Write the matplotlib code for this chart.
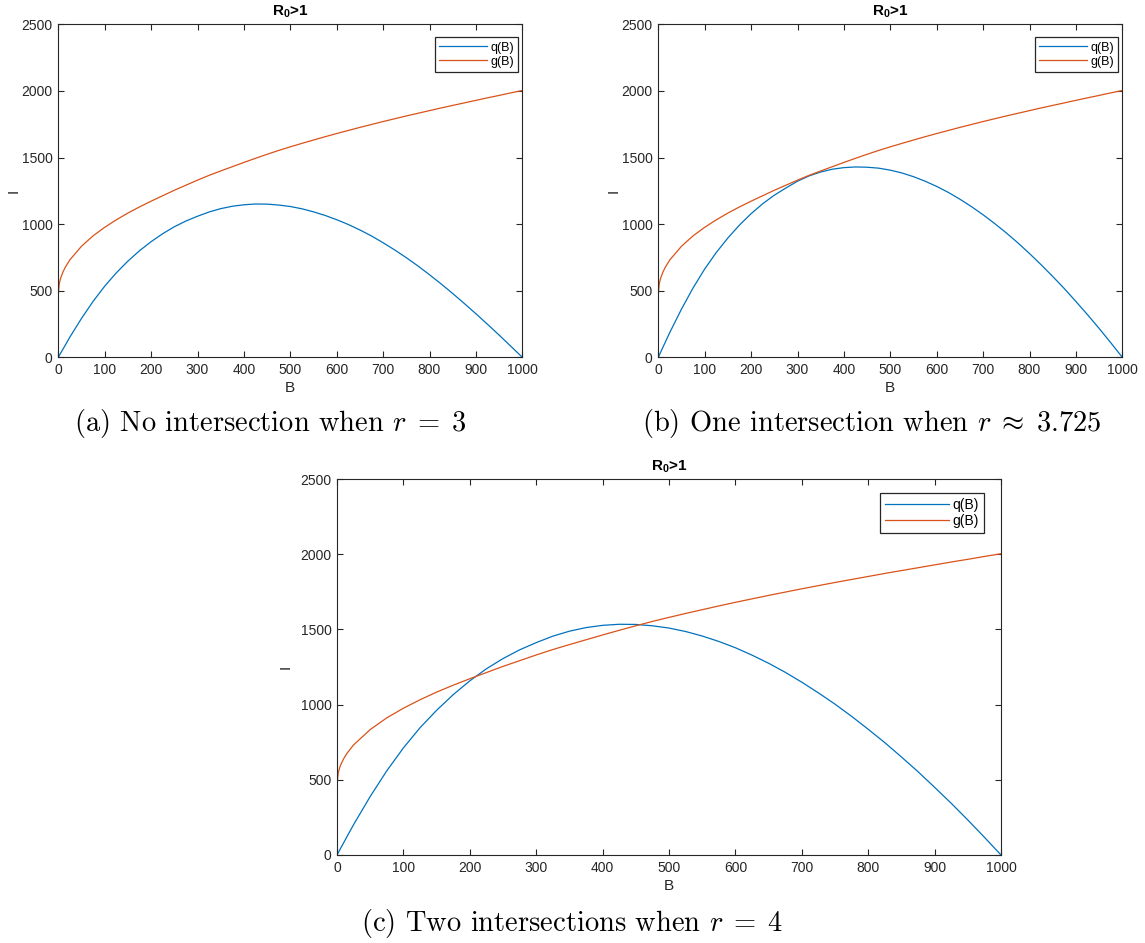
import matplotlib
matplotlib.use("Agg")
import matplotlib.pyplot as plt
from matplotlib.ticker import MultipleLocator

# ---------------- data ----------------
B = [0, 2, 5, 10, 15, 25, 50, 75, 100, 125, 150, 175, 200, 225, 250, 275,
     300, 325, 350, 375, 400, 425, 450, 475, 500, 525, 550, 575, 600, 625,
     650, 675, 700, 725, 750, 775, 800, 825, 850, 875, 900, 925, 950, 975, 1000]

g_B = [470, 550, 594, 640, 676, 732, 834, 912, 976, 1032, 1083, 1129, 1172,
       1213, 1254, 1292, 1330, 1366, 1399, 1431, 1463, 1494, 1524, 1553, 1580,
       1606, 1631, 1656, 1680, 1703, 1726, 1748, 1770, 1791, 1812, 1832, 1852,
       1872, 1891, 1910, 1929, 1948, 1966, 1985, 2003]

q_a = [0, 12, 31, 61, 91, 152, 292, 420, 534, 634, 722, 800, 868, 928, 980,
       1023, 1059, 1091, 1116, 1134, 1145, 1151, 1150, 1143, 1132, 1115, 1092,
       1065, 1033, 997, 956, 911, 860, 806, 748, 686, 620, 551, 479, 404, 327,
       248, 167, 84, 0]
q_b = [0, 15, 38, 76, 113, 188, 362, 521, 663, 787, 896, 993, 1078, 1153, 1217,
       1271, 1322, 1362, 1391, 1412, 1424, 1429, 1427, 1420, 1405, 1384, 1356,
       1322, 1283, 1238, 1187, 1131, 1070, 1004, 934, 859, 779, 695, 607, 516,
       419, 320, 217, 110, 0]
q_c = [0, 16, 41, 81, 122, 202, 389, 560, 712, 846, 962, 1066, 1158, 1238, 1306,
       1364, 1412, 1455, 1488, 1512, 1527, 1534, 1533, 1524, 1509, 1486, 1456,
       1420, 1378, 1329, 1275, 1215, 1149, 1078, 1003, 922, 836, 747, 652, 554,
       450, 344, 233, 118, 0]

legend_labels = ["q(B)", "g(B)"]
title_text = r"$\mathbf{R_0}$>1"
x_label = "B"
y_label = "I"
captions = [r"(a) No intersection when $r\;=\;3$",
            r"(b) One intersection when $r\;\approx\;3.725$",
            r"(c) Two intersections when $r\;=\;4$"]

# ---------------- style ----------------
plt.rcParams["font.family"] = ["Liberation Sans", "DejaVu Sans"]
plt.rcParams["mathtext.fontset"] = "custom"
plt.rcParams["mathtext.rm"] = "Liberation Sans"
plt.rcParams["mathtext.bf"] = "Liberation Sans:bold"
plt.rcParams["mathtext.it"] = "Liberation Sans:italic"

BLUE = "#0072BD"
ORANGE = "#D95319"
AX_COL = "0.15"

W, H = 1145, 943
fig = plt.figure(figsize=(W / 100, H / 100), dpi=100)


def px_axes(left, top, right, bottom):
    return fig.add_axes([left / W, 1 - bottom / H, (right - left) / W, (bottom - top) / H])


def style(ax, q, anchor, hlen, lfs):
    ax.plot(B, q, color=BLUE, lw=0.9, label=legend_labels[0])
    ax.plot(B, g_B, color=ORANGE, lw=0.9, label=legend_labels[1])
    ax.set_xlim(0, 1000)
    ax.set_ylim(0, 2500)
    ax.xaxis.set_major_locator(MultipleLocator(100))
    ax.yaxis.set_major_locator(MultipleLocator(500))
    ax.tick_params(direction="in", length=4, width=0.8, colors=AX_COL,
                   labelcolor=AX_COL, labelsize=10, top=True, right=True, pad=4)
    for s in ax.spines.values():
        s.set_color(AX_COL)
        s.set_linewidth(0.8)
    ax.set_title(title_text, fontsize=11, fontweight="bold", pad=6)
    ax.set_xlabel(x_label, fontsize=11, color=AX_COL, labelpad=3)
    ax.set_ylabel(y_label, fontsize=11, color=AX_COL)
    leg = ax.legend(loc="upper right", bbox_to_anchor=anchor, borderaxespad=0,
                    fontsize=lfs, handlelength=hlen, handletextpad=0.3,
                    labelspacing=0.15, borderpad=0.35, fancybox=False,
                    framealpha=1, edgecolor=AX_COL)
    leg.get_frame().set_linewidth(0.9)
    return ax


# panel (a)
axa = px_axes(58.3, 24.3, 522.3, 357.3)
style(axa, q_a, (1 - 4 / 464, 1 - 13 / 333), 3.8, 9)
axa.yaxis.set_label_coords(-38 / 464, 0.5)

# panel (b)
axb = px_axes(658.3, 24.3, 1122.3, 357.3)
style(axb, q_b, (1 - 4 / 464, 1 - 13 / 333), 3.8, 9)
axb.yaxis.set_label_coords(-38 / 464, 0.5)

# panel (c)
axc = px_axes(337, 479, 1001, 855)
style(axc, q_c, (1 - 17 / 664, 1 - 14 / 376), 4.6, 10)
axc.yaxis.set_label_coords(-44 / 664, 0.5)

# captions
cap_kw = dict(fontsize=20.5, fontfamily="cmr10", math_fontfamily="cm",
              ha="center", va="center")
fig.text(270 / W, 1 - 424 / H, captions[0], **cap_kw)
fig.text(872 / W, 1 - 424 / H, captions[1], **cap_kw)
fig.text(572 / W, 1 - 923 / H, captions[2], **cap_kw)

fig.savefig("out.png", dpi=100)
